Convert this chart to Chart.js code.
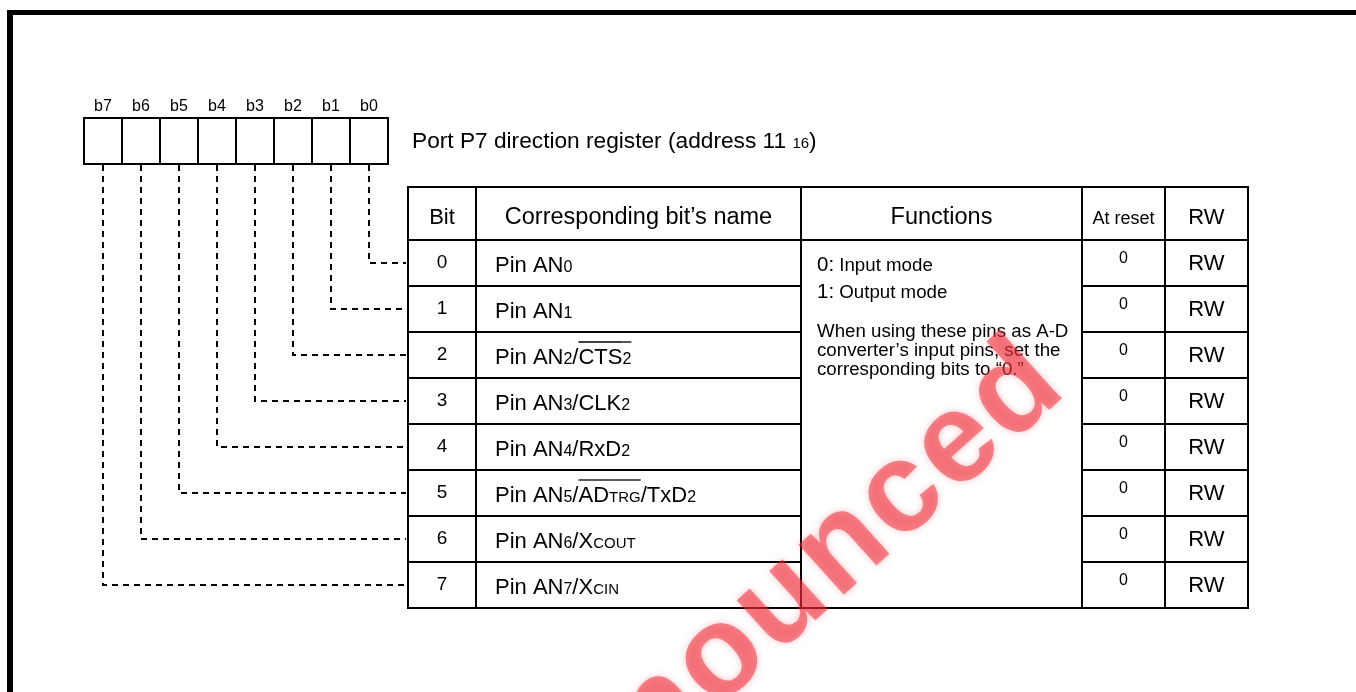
<!DOCTYPE html>
<html>
<head>
<meta charset="utf-8">
<title>Port P7 direction register</title>
<script src="https://cdn.jsdelivr.net/npm/chart.js@4.4.1/dist/chart.umd.min.js"></script>
<style>
html, body { margin: 0; padding: 0; background: #fff; }
#chart { display: block; }
</style>
</head>
<body>
<canvas id="chart" width="1356" height="692"></canvas>
<script>
// register contents
const bitLabels = ['b7', 'b6', 'b5', 'b4', 'b3', 'b2', 'b1', 'b0'];
const bitNumbers = ['0', '1', '2', '3', '4', '5', '6', '7'];
// [text, kind, overline]  kind: n = normal, s = subscript, c = small caps
const bitNames = [
  [['Pin AN', 'n'], ['0', 's']],
  [['Pin AN', 'n'], ['1', 's']],
  [['Pin AN', 'n'], ['2', 's'], ['/', 'n'], ['CTS', 'n', true], ['2', 's', true]],
  [['Pin AN', 'n'], ['3', 's'], ['/CLK', 'n'], ['2', 's']],
  [['Pin AN', 'n'], ['4', 's'], ['/RxD', 'n'], ['2', 's']],
  [['Pin AN', 'n'], ['5', 's'], ['/', 'n'], ['AD', 'n', true], ['TRG', 'c', true], ['/TxD', 'n'], ['2', 's']],
  [['Pin AN', 'n'], ['6', 's'], ['/X', 'n'], ['COUT', 'c']],
  [['Pin AN', 'n'], ['7', 's'], ['/X', 'n'], ['CIN', 'c']]
];
const resetValues = ['0', '0', '0', '0', '0', '0', '0', '0'];
const rwValues = ['RW', 'RW', 'RW', 'RW', 'RW', 'RW', 'RW', 'RW'];
const headers = ['Bit', 'Corresponding bit\u2019s name', 'Functions', 'At reset', 'RW'];
const functionLines = [
  [['0:', 'f0'], [' Input mode', 'f']],
  [['1:', 'f0'], [' Output mode', 'f']],
  [['When using these pins as A-D', 'f']],
  [['converter\u2019s input pins, set the', 'f']],
  [['corresponding bits to \u201c0.\u201d', 'f']]
];
const titleParts = [['Port P7 direction register (address 11 ', 'h'], ['16', 't'], [')', 'h']];
const watermark = 'Announced';

// layout
const FONT = '"Liberation Sans", Arial, Helvetica, sans-serif';
const SIZES = { n: 22, s: 16, c: 15, h: 22.7, t: 15, f: 18.7, f0: 20.5 };
const BOX_LEFT = 84, BOX_W = 38, BOX_TOP = 118, BOX_BOTTOM = 164;
const COLS = [408, 476, 801, 1082, 1165, 1248];
const HEAD_TOP = 187, ROW_TOP = 240, ROW_H = 46;
const TABLE_BOTTOM = ROW_TOP + ROW_H * bitNumbers.length;

// dashed leader from each register cell to its row
const leaders = bitNumbers.map((b, k) => {
  const cx = BOX_LEFT + BOX_W * (bitLabels.length - 1 - k + 0.5);
  const cy = ROW_TOP + ROW_H * (k + 0.5);
  return {
    type: 'line',
    data: [{ x: cx, y: BOX_BOTTOM + 1 }, { x: cx, y: cy }, { x: COLS[0] - 2, y: cy }],
    borderColor: '#000',
    borderWidth: 2,
    borderDash: [6, 5],
    pointRadius: 0,
    fill: false,
    tension: 0
  };
});

function drawRich(ctx, parts, x, y, overY) {
  let cx = x;
  parts.forEach(([text, kind, over]) => {
    ctx.font = SIZES[kind] + 'px ' + FONT;
    const w = ctx.measureText(text).width;
    ctx.fillText(text, cx, y);
    if (over) {
      ctx.beginPath();
      ctx.lineWidth = 1.3;
      ctx.moveTo(cx, overY);
      ctx.lineTo(cx + w, overY);
      ctx.stroke();
    }
    cx += w;
  });
}

const registerPlugin = {
  id: 'registerTable',
  beforeDatasetsDraw(chart) {
    const ctx = chart.ctx;
    const X = v => chart.scales.x.getPixelForValue(v);
    const Y = v => chart.scales.y.getPixelForValue(v);
    ctx.save();
    ctx.fillStyle = '#fff';
    ctx.fillRect(0, 0, chart.width, chart.height);

    // outer frame
    ctx.fillStyle = '#000';
    ctx.fillRect(X(7), Y(10), X(1356) - X(7), Y(15) - Y(10));
    ctx.fillRect(X(7), Y(10), X(13) - X(7), Y(692) - Y(10));

    ctx.strokeStyle = '#000';
    ctx.lineWidth = 2;

    // register cells and bit labels
    ctx.font = '16px ' + FONT;
    ctx.textAlign = 'center';
    ctx.textBaseline = 'alphabetic';
    bitLabels.forEach((lbl, i) => {
      const l = BOX_LEFT + BOX_W * i;
      ctx.strokeRect(X(l), Y(BOX_TOP), X(l + BOX_W) - X(l), Y(BOX_BOTTOM) - Y(BOX_TOP));
      ctx.fillText(lbl, X(l + BOX_W / 2), Y(111));
    });

    // title
    ctx.textAlign = 'left';
    drawRich(ctx, titleParts, X(412), Y(148), 0);

    // table grid
    ctx.lineWidth = 2;
    ctx.beginPath();
    ctx.moveTo(X(COLS[0]), Y(HEAD_TOP)); ctx.lineTo(X(COLS[5]), Y(HEAD_TOP));
    ctx.moveTo(X(COLS[0]), Y(ROW_TOP)); ctx.lineTo(X(COLS[5]), Y(ROW_TOP));
    ctx.moveTo(X(COLS[0]), Y(TABLE_BOTTOM)); ctx.lineTo(X(COLS[5]), Y(TABLE_BOTTOM));
    for (let k = 1; k < bitNumbers.length; k++) {
      const y = ROW_TOP + ROW_H * k;
      ctx.moveTo(X(COLS[0]), Y(y)); ctx.lineTo(X(COLS[2]), Y(y));
      ctx.moveTo(X(COLS[3]), Y(y)); ctx.lineTo(X(COLS[5]), Y(y));
    }
    COLS.forEach(c => {
      ctx.moveTo(X(c), Y(HEAD_TOP - 1)); ctx.lineTo(X(c), Y(TABLE_BOTTOM + 1));
    });
    ctx.stroke();

    // headers
    ctx.fillStyle = '#000';
    ctx.textAlign = 'center';
    headers.forEach((h, i) => {
      ctx.font = (i === 3 ? 18 : (i === 0 || i === 4 ? 22 : 23.5)) + 'px ' + FONT;
      ctx.fillText(h, X((COLS[i] + COLS[i + 1]) / 2), Y(224));
    });

    // rows
    bitNumbers.forEach((b, k) => {
      const top = ROW_TOP + ROW_H * k;
      ctx.textAlign = 'center';
      ctx.font = '19px ' + FONT;
      ctx.fillText(b, X((COLS[0] + COLS[1]) / 2), Y(top + 28));
      ctx.font = '16px ' + FONT;
      ctx.fillText(resetValues[k], X((COLS[3] + COLS[4]) / 2), Y(top + 23));
      ctx.font = '22px ' + FONT;
      ctx.fillText(rwValues[k], X((COLS[4] + COLS[5]) / 2), Y(top + 30));
      ctx.textAlign = 'left';
      drawRich(ctx, bitNames[k], X(COLS[1] + 19), Y(top + 32), Y(top + 10));
    });

    // functions
    const fnBase = [271, 298, 337, 356, 375];
    ctx.textAlign = 'left';
    functionLines.forEach((parts, i) => {
      drawRich(ctx, parts, X(COLS[2] + 16), Y(fnBase[i]), 0);
    });
    ctx.restore();
  },
  afterDraw(chart) {
    // faded stamp across the table, letter by letter
    const ctx = chart.ctx;
    const X = v => chart.scales.x.getPixelForValue(v);
    const Y = v => chart.scales.y.getPixelForValue(v);
    const gap = 4;
    ctx.save();
    ctx.font = 'bold 128px ' + FONT;
    const letters = watermark.split('');
    const widths = letters.map(ch => ctx.measureText(ch).width);
    const anchor = 3; // the first "o"
    let start = 0;
    for (let i = 0; i < anchor; i++) start += widths[i] + gap;
    start += widths[anchor] / 2;
    ctx.translate(X(722), Y(660));
    ctx.rotate(-42 * Math.PI / 180);
    ctx.textAlign = 'left';
    ctx.shadowColor = 'rgba(240,80,90,0.7)';
    ctx.shadowBlur = 7;
    ctx.fillStyle = 'rgba(238,30,42,0.5)';
    let pos = -start;
    letters.forEach((ch, i) => {
      ctx.fillText(ch, pos, 33);
      pos += widths[i] + gap;
    });
    ctx.restore();
  }
};

new Chart(document.getElementById('chart').getContext('2d'), {
  type: 'line',
  data: { datasets: leaders },
  options: {
    responsive: false,
    animation: false,
    events: [],
    layout: { padding: 0 },
    plugins: { legend: { display: false }, tooltip: { enabled: false } },
    scales: {
      x: { type: 'linear', min: 0, max: 1356, display: false },
      y: { type: 'linear', min: 0, max: 692, reverse: true, display: false }
    }
  },
  plugins: [registerPlugin]
});
</script>
</body>
</html>
